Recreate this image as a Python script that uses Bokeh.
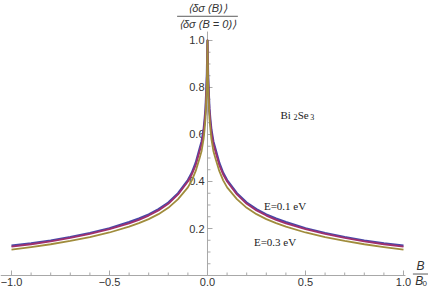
import math
from bokeh.plotting import figure
from bokeh.models import Range1d, Label, ColumnDataSource
from bokeh.core.properties import value
from bokeh.embed import file_html
from bokeh.resources import INLINE

# half-curve samples (|B/B0|); curves are symmetric
b_half = [0, 0.003, 0.006, 0.01, 0.015, 0.02, 0.03, 0.04, 0.06, 0.08, 0.1,
          0.15, 0.2, 0.25, 0.3, 0.35, 0.4, 0.5, 0.6, 0.7, 0.8, 0.9, 1.0]
blue_half = [1.0, 0.86, 0.79, 0.71, 0.66, 0.62, 0.57, 0.54, 0.48, 0.437, 0.406,
             0.35, 0.31, 0.282, 0.26, 0.242, 0.227, 0.201, 0.181, 0.164, 0.149, 0.137, 0.127]
e01_half = [1.0, 0.85, 0.78, 0.70, 0.65, 0.61, 0.56, 0.53, 0.47, 0.43, 0.40,
            0.345, 0.305, 0.277, 0.255, 0.237, 0.222, 0.197, 0.177, 0.160, 0.145, 0.133, 0.123]
e03_half = [1.0, 0.82, 0.75, 0.67, 0.62, 0.58, 0.53, 0.50, 0.445, 0.405, 0.375,
            0.325, 0.288, 0.261, 0.240, 0.223, 0.208, 0.183, 0.163, 0.147, 0.133, 0.121, 0.110]

x_ticks = [-1.0, -0.5, 0.0, 0.5, 1.0]
x_tick_labels = ["\u22121.0", "\u22120.5", "0.0", "0.5", "1.0"]
x_minor = [-0.9, -0.8, -0.7, -0.6, -0.4, -0.3, -0.2, -0.1, 0.1, 0.2, 0.3, 0.4, 0.6, 0.7, 0.8, 0.9]
y_ticks = [0.2, 0.4, 0.6, 0.8, 1.0]
y_tick_labels = ["0.2", "0.4", "0.6", "0.8", "1.0"]
y_minor = [0.05, 0.1, 0.15, 0.25, 0.3, 0.35, 0.45, 0.5, 0.55, 0.65, 0.7, 0.75, 0.85, 0.9, 0.95]
x_axis_extent = [-1.056, 1.01]
y_axis_extent = [0.0, 1.038]


def mirror(half):
    return list(reversed(half[1:])) + list(half)


bx = [-v for v in reversed(b_half[1:])] + list(b_half)

AX = "#a8a8a8"
TXT = "#333333"

p = figure(width=428, height=287, x_range=Range1d(-1.0561, 1.1276),
           y_range=Range1d(-0.05106, 1.1702),
           output_backend="svg", toolbar_location=None,
           x_axis_location=None, y_axis_location=None,
           min_border_left=0, min_border_right=0, min_border_top=0, min_border_bottom=0)
p.grid.visible = False
p.outline_line_color = None

# x axis along y = 0
p.line(x_axis_extent, [0, 0], line_color=AX, line_width=1)
p.ray(x=x_ticks, y=[0] * len(x_ticks), length=5, length_units="screen", angle=math.pi / 2,
      line_color=AX, line_width=1)
p.ray(x=x_minor, y=[0] * len(x_minor), length=3, length_units="screen", angle=math.pi / 2,
      line_color=AX, line_width=1)
xsrc = ColumnDataSource(dict(x=x_ticks, y=[0] * len(x_ticks), t=x_tick_labels))
p.text(x="x", y="y", text="t", source=xsrc, y_offset=2, text_align="center",
       text_baseline="top", text_font=value("Liberation Sans"),
       text_font_size="11px", text_color=TXT)

# y axis along x = 0
p.line([0, 0], y_axis_extent, line_color=AX, line_width=1)
p.ray(x=[0] * len(y_ticks), y=y_ticks, length=5, length_units="screen", angle=0,
      line_color=AX, line_width=1)
p.ray(x=[0] * len(y_minor), y=y_minor, length=3, length_units="screen", angle=0,
      line_color=AX, line_width=1)
ysrc = ColumnDataSource(dict(x=[0] * len(y_ticks), y=y_ticks, t=y_tick_labels))
p.text(x="x", y="y", text="t", source=ysrc, x_offset=-3, text_align="right",
       text_baseline="middle", text_font=value("Liberation Sans"),
       text_font_size="11px", text_color=TXT)

# curves
p.line(bx, mirror(blue_half), line_color="#4848a8", line_width=2.2, line_join="round")
p.line(bx, mirror(e01_half), line_color="#a0306e", line_width=1.8, line_join="round")
p.line(bx, mirror(e03_half), line_color="#a08c3c", line_width=1.8, line_join="round")

# annotations
serif = "Liberation Serif"
for txt, x, y, fs in [("E=0.1 eV", 0.288, 0.295, "11px"), ("E=0.3 eV", 0.237, 0.141, "11px"),
                      ("Bi", 0.372, 0.685, "11px"), ("2", 0.439, 0.676, "8px"),
                      ("Se", 0.46, 0.685, "11px"), ("3", 0.524, 0.676, "8px")]:
    p.add_layout(Label(x=x, y=y, text=txt, text_font=serif, text_font_size=fs,
                       text_color="#222222", text_baseline="alphabetic", text_align="left"))

sans = "Liberation Sans"
# y-axis label (fraction)
p.add_layout(Label(x=0, y=1.137, text="\u27e8\u03b4\u03c3 (B)\u27e9", text_font=sans,
                   text_font_style="italic", text_font_size="11px", text_color=TXT,
                   text_align="center", text_baseline="middle"))
p.line([-0.155, 0.155], [1.103, 1.103], line_color=TXT, line_width=0.8)
p.add_layout(Label(x=0, y=1.072, text="\u27e8\u03b4\u03c3 (B = 0)\u27e9", text_font=sans,
                   text_font_style="italic", text_font_size="11px", text_color=TXT,
                   text_align="center", text_baseline="middle"))

# x-axis label (fraction)
p.add_layout(Label(x=1.087, y=0.040, text="B", text_font=sans, text_font_style="italic",
                   text_font_size="12px", text_color=TXT, text_align="center",
                   text_baseline="middle"))
p.line([1.048, 1.126], [0.0063, 0.0063], line_color=TXT, line_width=0.8)
p.add_layout(Label(x=1.081, y=-0.022, text="B", text_font=sans, text_font_style="italic",
                   text_font_size="12px", text_color=TXT, text_align="center",
                   text_baseline="middle"))
p.add_layout(Label(x=1.108, y=-0.034, text="0", text_font=sans,
                   text_font_size="8px", text_color=TXT, text_align="center",
                   text_baseline="middle"))

open("out.html", "w").write(file_html(p, INLINE))
